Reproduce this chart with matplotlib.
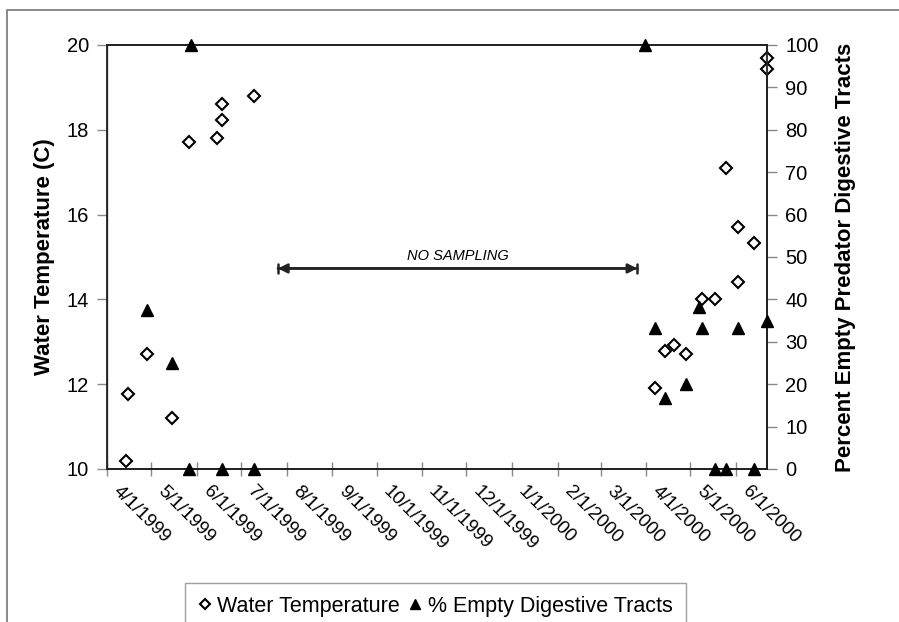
import datetime as dt
import matplotlib
matplotlib.use("Agg")
import matplotlib.pyplot as plt
import matplotlib.transforms as mtransforms
from matplotlib.patches import Rectangle

plt.rcParams['font.family'] = ['Liberation Sans', 'DejaVu Sans']

def d(s):
    return dt.datetime.strptime(s, "%m/%d/%Y")

# water temperature samples (C)
temp_dates = ["4/14/1999", "4/15/1999", "4/28/1999", "5/15/1999", "5/27/1999",
              "6/15/1999", "6/18/1999", "6/18/1999", "7/10/1999",
              "4/7/2000", "4/14/2000", "4/20/2000", "4/28/2000", "5/9/2000",
              "5/18/2000", "5/25/2000", "6/2/2000", "6/2/2000", "6/13/2000",
              "6/22/2000", "6/22/2000"]
temp_vals = [10.2, 11.78, 12.72, 11.2, 17.72,
             17.8, 18.22, 18.62, 18.8,
             11.9, 12.79, 12.92, 12.72, 14.0,
             14.0, 17.1, 15.7, 14.42, 15.32,
             19.7, 19.43]

# percent of predators with empty digestive tracts
empty_dates = ["4/28/1999", "5/15/1999", "5/28/1999", "5/27/1999", "6/18/1999",
               "7/10/1999",
               "3/31/2000", "4/7/2000", "4/14/2000", "4/28/2000", "5/7/2000",
               "5/9/2000", "6/2/2000", "6/22/2000", "5/18/2000", "5/25/2000",
               "6/13/2000"]
empty_vals = [37.5, 25, 100, 0, 0,
              0,
              100, 33.3, 16.7, 20, 38.3,
              33.3, 33.3, 35, 0, 0,
              0]

month_ticks = ["4/1/1999", "5/1/1999", "6/1/1999", "7/1/1999", "8/1/1999",
               "9/1/1999", "10/1/1999", "11/1/1999", "12/1/1999", "1/1/2000",
               "2/1/2000", "3/1/2000", "4/1/2000", "5/1/2000", "6/1/2000"]

gap_start, gap_end, gap_level = "7/26/1999", "3/26/2000", 14.73

fig = plt.figure(figsize=(8.99, 6.22), dpi=100)
ax = fig.add_axes([107/899, 1-469/622, 660/899, 424/622])
ax2 = ax.twinx()

ax.plot([d(s) for s in temp_dates], temp_vals, linestyle='none', marker='D',
        markersize=6.2, markerfacecolor='white', markeredgecolor='black',
        markeredgewidth=1.5, label='Water Temperature', zorder=3, clip_on=False)
ax2.plot([d(s) for s in empty_dates], empty_vals, linestyle='none', marker='^',
         markersize=8.8, color='black', label='% Empty Digestive Tracts',
         zorder=3, clip_on=False)

ax.set_xlim(d("4/1/1999"), d("6/22/2000"))
ax.set_ylim(10, 20)
ax2.set_ylim(0, 100)
ax.set_yticks(range(10, 21, 2))
ax2.set_yticks(range(0, 101, 10))
ax.set_xticks([d(s) for s in month_ticks])
ax.set_xticklabels(month_ticks)

# no sampling interval
x0, x1 = d(gap_start), d(gap_end)
ax.annotate('', xy=(x0, gap_level), xytext=(x1, gap_level),
            arrowprops=dict(arrowstyle='<|-|>', color='#222222', lw=1.8,
                            mutation_scale=14, shrinkA=0, shrinkB=0))
ax.annotate('', xy=(x0, gap_level), xytext=(x1, gap_level),
            arrowprops=dict(arrowstyle='|-|, widthA=0.35, widthB=0.35',
                            color='#222222', lw=1.8, shrinkA=0, shrinkB=0))
ax.text(x0 + (x1 - x0) / 2, gap_level + 0.12, 'NO SAMPLING', fontsize=10.5,
        style='italic', ha='center', va='bottom')

for a in (ax, ax2):
    for sp in a.spines.values():
        sp.set_linewidth(1.3)
        sp.set_color('#222222')
ax.spines['left'].set_color('#555555')
ax.spines['left'].set_linewidth(1.0)

ax.tick_params(axis='y', direction='out', length=7, width=1, color='#888888',
               labelsize=14.5, pad=6)
ax2.tick_params(axis='y', direction='out', length=7, width=1, color='#888888',
                labelsize=14.5, pad=6)
ax.tick_params(axis='x', direction='inout', length=10, width=1, color='#888888',
               labelsize=13.5, pad=9)
offset = mtransforms.ScaledTranslation(9/100, 0, fig.dpi_scale_trans)
for lab in ax.get_xticklabels():
    lab.set_rotation(-45)
    lab.set_ha('left')
    lab.set_va('center')
    lab.set_rotation_mode('anchor')
    lab.set_transform(lab.get_transform() + offset)

ax.set_ylabel('Water Temperature (C)', fontsize=16, fontweight='bold', labelpad=8)
ax2.set_ylabel('Percent Empty Predator Digestive Tracts', fontsize=16,
               fontweight='bold', labelpad=12)

h1, l1 = ax.get_legend_handles_labels()
h2, l2 = ax2.get_legend_handles_labels()
leg = fig.legend(h1 + h2, l1 + l2, loc='upper center', ncol=2,
                 bbox_to_anchor=(435.5/899, 1-583/622), fontsize=15.5,
                 frameon=True, fancybox=False, edgecolor='#888888',
                 handlelength=0.6, handletextpad=0.3, columnspacing=0.4,
                 borderpad=0.6, borderaxespad=0, markerscale=0.75)
leg.get_frame().set_linewidth(1.0)

# outer chart frame
fig.patches.append(Rectangle((7/899, -0.1), 1.2, 1.1 - 10/622, fill=False,
                             edgecolor='#777777', linewidth=1.2,
                             transform=fig.transFigure, figure=fig))

fig.savefig('out.png', dpi=100)
